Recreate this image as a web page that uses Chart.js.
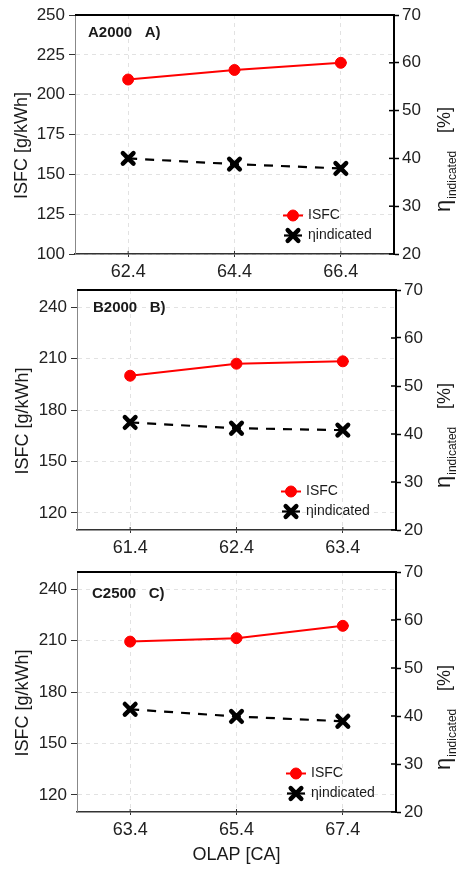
<!DOCTYPE html>
<html>
<head>
<meta charset="utf-8">
<script src="https://cdn.jsdelivr.net/npm/chart.js@4/dist/chart.umd.min.js"></script>
<style>
  html, body { margin: 0; padding: 0; background: #ffffff; }
  #wrap { position: relative; width: 458px; height: 870px; overflow: hidden; }
  #wrap canvas { position: absolute; left: 0; }
</style>
</head>
<body>
<div id="wrap">
  <canvas id="panelA" width="458" height="300" style="top:0px"></canvas>
  <canvas id="panelB" width="458" height="300" style="top:270px"></canvas>
  <canvas id="panelC" width="458" height="318" style="top:552px"></canvas>
</div>
<script>
// OLAP sweeps with indicated specific fuel consumption and indicated efficiency
const olapA = [62.4, 64.4, 66.4];
const isfcA = [209.5, 215.5, 220.0];
const etaA  = [40.0, 38.8, 37.9];

const olapB = [61.4, 62.4, 63.4];
const isfcB = [200.0, 207.0, 208.4];
const etaB  = [42.4, 41.2, 40.8];

const olapC = [63.4, 65.4, 67.4];
const isfcC = [209.4, 211.4, 218.6];
const etaC  = [41.4, 39.9, 38.9];

// Axis tick values
const isfcTicksA  = [100, 125, 150, 175, 200, 225, 250];
const isfcTicksBC = [120, 150, 180, 210, 240];
const etaTicks    = [20, 30, 40, 50, 60, 70];

// Texts
const panelLabels  = ['A2000   A)', 'B2000   B)', 'C2500   C)'];
const seriesLabels = ['ISFC', 'ηindicated'];
const xTitle    = 'OLAP [CA]';
const yTitle    = 'ISFC [g/kWh]';
const etaSymbol = 'η';
const etaSub    = 'indicated';
const etaUnit   = '[%]';

const FONT = "'Liberation Sans', Arial, Helvetica, sans-serif";
const TEXT = '#1a1a1a';
const GRID = '#e2e2e2';

const panels = [
  { id: 'panelA', x: olapA, isfc: isfcA, eta: etaA, xMin: 61.4, xMax: 67.4,
    yMin: 100, yMax: 250, yTicks: isfcTicksA, label: panelLabels[0],
    padTop: 15, xH: 46, leftW: 75, rightW: 64, labDX: 13, labDY: 17.7,
    legDX: -86, yTitleX: 22, showX: false },
  { id: 'panelB', x: olapB, isfc: isfcB, eta: etaB, xMin: 60.9, xMax: 63.9,
    yMin: 110, yMax: 250, yTicks: isfcTicksBC, label: panelLabels[1],
    padTop: 20, xH: 40, leftW: 77, rightW: 62, labDX: 16, labDY: 18.3,
    legDX: -90, yTitleX: 23, showX: false },
  { id: 'panelC', x: olapC, isfc: isfcC, eta: etaC, xMin: 62.4, xMax: 68.4,
    yMin: 110, yMax: 250, yTicks: isfcTicksBC, label: panelLabels[2],
    padTop: 20, xH: 58, leftW: 77, rightW: 62, labDX: 15, labDY: 22,
    legDX: -85, yTitleX: 23, showX: true }
];

function drawMarker(ctx, ds, x, y) {
  const opts = { pointStyle: ds.pointStyle, radius: ds.pointRadius,
                 borderWidth: ds.pointBorderWidth, rotation: 0 };
  ctx.lineWidth = ds.pointBorderWidth;
  if (Chart.helpers && Chart.helpers.drawPoint) {
    Chart.helpers.drawPoint(ctx, opts, x, y);
  }
}

// Frame, inward ticks, panel label, legend and axis titles
function decoPlugin(p) {
  return {
    id: 'deco_' + p.id,
    beforeDatasetsDraw(chart) {
      // rounded ends for the heavy cross markers
      chart.ctx.save();
      chart.ctx.lineCap = 'round';
      chart.ctx.lineJoin = 'round';
    },
    afterDatasetsDraw(chart) {
      chart.ctx.restore();
    },
    afterDraw(chart) {
      const ctx = chart.ctx;
      const a = chart.chartArea;
      const xs = chart.scales.x;
      const yr = chart.scales.yR;
      ctx.save();
      ctx.setLineDash([]);

      // top frame line
      ctx.strokeStyle = '#000';
      ctx.lineWidth = 2;
      ctx.beginPath();
      ctx.moveTo(a.left, a.top);
      ctx.lineTo(a.right + 1, a.top);
      ctx.stroke();

      // inner halves of the right-axis ticks
      ctx.lineWidth = 1.5;
      yr.ticks.forEach(t => {
        const y = yr.getPixelForValue(t.value);
        ctx.beginPath();
        ctx.moveTo(a.right - 5, y);
        ctx.lineTo(a.right, y);
        ctx.stroke();
      });
      // inner halves of the x-axis ticks
      ctx.strokeStyle = '#333';
      ctx.lineWidth = 1;
      xs.ticks.forEach(t => {
        const x = xs.getPixelForValue(t.value);
        ctx.beginPath();
        ctx.moveTo(x, a.bottom - 3);
        ctx.lineTo(x, a.bottom);
        ctx.stroke();
      });

      // panel label
      ctx.fillStyle = TEXT;
      ctx.font = 'bold 15px ' + FONT;
      ctx.textAlign = 'left';
      ctx.textBaseline = 'middle';
      ctx.fillText(p.label, a.left + p.labDX, a.top + p.labDY);

      // legend
      const tx = a.right + p.legDX;
      const rows = [38.5, 18.5];
      chart.data.datasets.forEach((ds, i) => {
        const y = a.bottom - rows[i];
        ctx.save();
        ctx.strokeStyle = ds.borderColor;
        ctx.fillStyle = ds.backgroundColor;
        ctx.lineWidth = ds.borderWidth;
        ctx.beginPath();
        if (ds.borderDash) {
          ctx.moveTo(tx - 24, y);
          ctx.lineTo(tx - 6, y);
        } else {
          ctx.moveTo(tx - 25, y);
          ctx.lineTo(tx - 5, y);
        }
        ctx.stroke();
        ctx.lineCap = 'round';
        drawMarker(ctx, ds, tx - 15, y);
        ctx.restore();
        ctx.fillStyle = TEXT;
        ctx.font = '14px ' + FONT;
        ctx.textAlign = 'left';
        ctx.textBaseline = 'middle';
        ctx.fillText(ds.label, tx, y);
      });

      // left axis title
      ctx.save();
      ctx.fillStyle = TEXT;
      ctx.font = '18px ' + FONT;
      ctx.textAlign = 'center';
      ctx.textBaseline = 'middle';
      ctx.translate(p.yTitleX, (a.top + a.bottom) / 2 + 11);
      ctx.rotate(-Math.PI / 2);
      ctx.fillText(yTitle, 0, 0);
      ctx.restore();

      // right axis title: η with subscript and unit
      ctx.save();
      ctx.fillStyle = TEXT;
      ctx.translate(chart.width - 8, a.bottom - 42);
      ctx.rotate(-Math.PI / 2);
      ctx.textAlign = 'left';
      ctx.textBaseline = 'alphabetic';
      ctx.font = '22px ' + FONT;
      ctx.fillText(etaSymbol, 0, 0);
      const w = ctx.measureText(etaSymbol).width;
      ctx.font = '12px ' + FONT;
      ctx.fillText(etaSub, w + 1, 6);
      ctx.font = '18px ' + FONT;
      const wu = ctx.measureText(etaUnit).width;
      ctx.fillText(etaUnit, 105 - wu, 0);
      ctx.restore();

      ctx.restore();
    }
  };
}

function makePanel(p) {
  const canvas = document.getElementById(p.id);
  return new Chart(canvas, {
    type: 'line',
    data: {
      datasets: [
        {
          label: seriesLabels[0],
          data: p.x.map((v, i) => ({ x: v, y: p.isfc[i] })),
          yAxisID: 'yL',
          borderColor: '#ff0000',
          backgroundColor: '#ff0000',
          borderWidth: 2,
          pointStyle: 'circle',
          pointRadius: 5.5,
          pointBorderWidth: 1,
          tension: 0
        },
        {
          label: seriesLabels[1],
          data: p.x.map((v, i) => ({ x: v, y: p.eta[i] })),
          yAxisID: 'yR',
          borderColor: '#000000',
          backgroundColor: '#000000',
          borderWidth: 2.2,
          borderDash: [9, 8],
          pointStyle: 'crossRot',
          pointRadius: 7.5,
          pointBorderWidth: 4.5,
          tension: 0
        }
      ]
    },
    options: {
      responsive: false,
      animation: false,
      devicePixelRatio: 1,
      layout: { padding: { top: p.padTop, left: 0, right: 0, bottom: 0 } },
      plugins: {
        legend: { display: false },
        tooltip: { enabled: false },
        title: { display: false }
      },
      scales: {
        x: {
          type: 'linear',
          position: 'bottom',
          min: p.xMin,
          max: p.xMax,
          afterBuildTicks: s => { s.ticks = p.x.map(v => ({ value: v })); },
          afterFit: s => { s.height = p.xH; },
          ticks: {
            callback: v => Number(v).toFixed(1),
            font: { family: FONT, size: 18 },
            color: '#222',
            padding: 4,
            maxRotation: 0,
            autoSkip: false
          },
          grid: { color: GRID, lineWidth: 1, tickLength: 3, tickColor: '#333', tickWidth: 1 },
          border: { color: '#333', width: 1.5, dash: [4, 4] },
          title: {
            display: p.showX,
            text: xTitle,
            color: TEXT,
            font: { family: FONT, size: 18 },
            padding: { top: 4, bottom: 4 }
          }
        },
        yL: {
          type: 'linear',
          position: 'left',
          min: p.yMin,
          max: p.yMax,
          afterBuildTicks: s => { s.ticks = p.yTicks.map(v => ({ value: v })); },
          afterFit: s => { s.width = p.leftW; },
          ticks: { font: { family: FONT, size: 17 }, color: '#222', padding: 4 },
          grid: { color: GRID, lineWidth: 1, tickLength: 6, tickColor: '#333', tickWidth: 1 },
          border: { color: '#888', width: 1, dash: [4, 4] }
        },
        yR: {
          type: 'linear',
          position: 'right',
          min: 20,
          max: 70,
          afterBuildTicks: s => { s.ticks = etaTicks.map(v => ({ value: v })); },
          afterFit: s => { s.width = p.rightW; },
          ticks: { font: { family: FONT, size: 17 }, color: '#222', padding: 3 },
          grid: { drawOnChartArea: false, tickLength: 5, tickColor: '#000', tickWidth: 1.5 },
          border: { color: '#000', width: 2 }
        }
      }
    },
    plugins: [decoPlugin(p)]
  });
}

panels.forEach(makePanel);
</script>
</body>
</html>
